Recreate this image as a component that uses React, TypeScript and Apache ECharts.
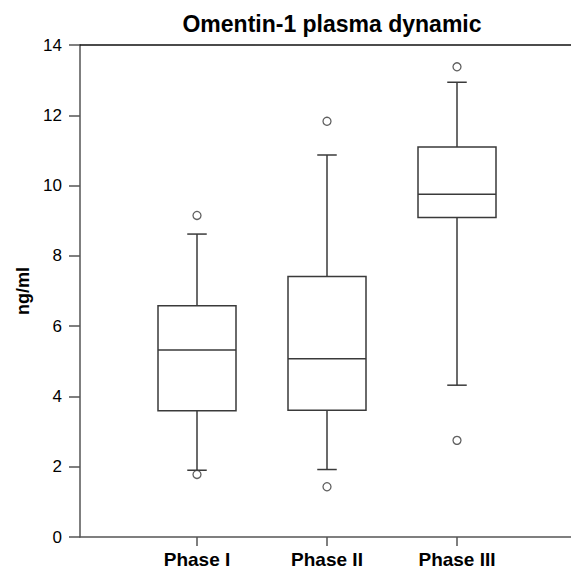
import React, { useEffect, useRef } from "react";
import * as echarts from "echarts";

const categories = ["Phase I", "Phase II", "Phase III"];
const positions = [1, 2, 3];
// [min whisker, Q1, median, Q3, max whisker]
const boxStats = [
  [1.9, 3.59, 5.32, 6.58, 8.62],
  [1.92, 3.61, 5.07, 7.41, 10.87],
  [4.32, 9.09, 9.75, 11.1, 12.94],
];
const outlierPhase = [1, 1, 2, 2, 3, 3];
const outlierValue = [9.15, 1.78, 11.83, 1.43, 13.38, 2.75];
const yTicks = [0, 2, 4, 6, 8, 10, 12, 14];

const FONT = "Liberation Sans, Arial, sans-serif";
const LINE = "#3a3a3a";

export default function App() {
  const ref = useRef<HTMLDivElement>(null);
  useEffect(() => {
    if (!ref.current) return;
    const chart = echarts.init(ref.current, undefined, { renderer: "svg" });
    const boxData = boxStats.map((s, i) => [positions[i], ...s]);
    const outData = outlierPhase.map((p, i) => [p, outlierValue[i]]);
    const xMin = 0.1;
    const xMax = 0.1 + 491 / 130;
    chart.setOption({
      animation: false,
      backgroundColor: "#ffffff",
      title: {
        text: "Omentin-1 plasma dynamic",
        left: 327,
        top: 7,
        textAlign: "center",
        textStyle: { fontFamily: FONT, fontSize: 23, fontWeight: "bold", color: "#000" },
      },
      grid: { left: 80, right: 0, top: 45, bottom: 34 },
      xAxis: [
        {
          type: "value",
          min: xMin,
          max: xMax,
          axisLine: { show: true, lineStyle: { color: "#555", width: 1.5 } },
          axisTick: { show: true, customValues: positions, length: 9, lineStyle: { color: "#555", width: 1.5 } },
          axisLabel: {
            customValues: positions,
            margin: 13,
            formatter: (v: number) => categories[positions.indexOf(Math.round(v))] ?? "",
            fontFamily: FONT,
            fontSize: 19,
            fontWeight: "bold",
            color: "#000",
          },
          splitLine: { show: false },
        },
        {
          type: "value",
          position: "top",
          min: xMin,
          max: xMax,
          axisLine: { show: true, onZero: false, lineStyle: { color: "#111", width: 1.5 } },
          axisTick: { show: false },
          axisLabel: { show: false },
          splitLine: { show: false },
        },
      ],
      yAxis: {
        type: "value",
        min: 0,
        max: 14,
        interval: 2,
        name: "ng/ml",
        nameLocation: "middle",
        nameGap: 44,
        nameTextStyle: { fontFamily: FONT, fontSize: 18, fontWeight: "bold", color: "#000" },
        axisLine: { show: true, lineStyle: { color: "#555", width: 1.5 } },
        axisTick: { show: true, length: 11, lineStyle: { color: "#555", width: 1.5 } },
        axisLabel: {
          margin: 18,
          fontFamily: FONT,
          fontSize: 17,
          color: "#000",
          customValues: yTicks,
        },
        splitLine: { show: false },
      },
      series: [
        {
          type: "custom",
          xAxisIndex: 0,
          yAxisIndex: 0,
          data: boxData,
          encode: { x: 0, y: [1, 2, 3, 4, 5] },
          renderItem: (params: any, api: any) => {
            const x = api.value(0);
            const lo = api.coord([x, api.value(1)]);
            const q1 = api.coord([x, api.value(2)]);
            const med = api.coord([x, api.value(3)]);
            const q3 = api.coord([x, api.value(4)]);
            const hi = api.coord([x, api.value(5)]);
            const unit = api.size([1, 0])[0];
            const bw = unit * 0.6;
            const cw = unit * 0.15;
            const cx = q1[0];
            const ls = { stroke: LINE, lineWidth: 1.5, fill: null };
            return {
              type: "group",
              children: [
                { type: "line", shape: { x1: cx, y1: q3[1], x2: cx, y2: hi[1] }, style: ls },
                { type: "line", shape: { x1: cx, y1: q1[1], x2: cx, y2: lo[1] }, style: ls },
                { type: "line", shape: { x1: cx - cw / 2, y1: hi[1], x2: cx + cw / 2, y2: hi[1] }, style: ls },
                { type: "line", shape: { x1: cx - cw / 2, y1: lo[1], x2: cx + cw / 2, y2: lo[1] }, style: ls },
                {
                  type: "rect",
                  shape: { x: cx - bw / 2, y: q3[1], width: bw, height: q1[1] - q3[1] },
                  style: { stroke: LINE, lineWidth: 1.5, fill: "#fff" },
                },
                { type: "line", shape: { x1: cx - bw / 2, y1: med[1], x2: cx + bw / 2, y2: med[1] }, style: ls },
              ],
            };
          },
          z: 2,
        },
        {
          type: "scatter",
          data: outData,
          symbol: "circle",
          symbolSize: 8,
          itemStyle: { color: "#fff", borderColor: LINE, borderWidth: 1.3 },
          z: 3,
        },
      ],
    });
    return () => chart.dispose();
  }, []);
  return (
    <div
      ref={ref}
      style={{ position: "absolute", left: 0, top: 0, width: 571, height: 571, background: "#fff" }}
    />
  );
}
